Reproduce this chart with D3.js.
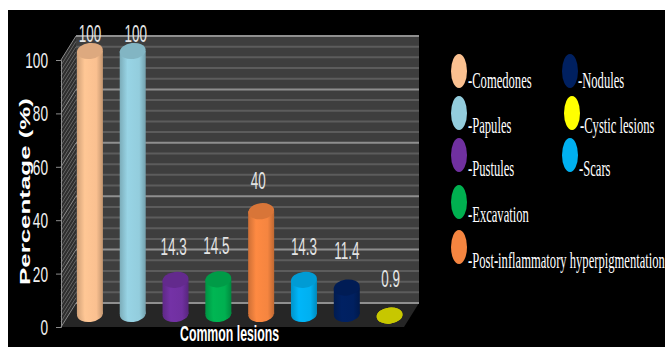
<!DOCTYPE html>
<html lang="en">
<head>
    <meta charset="UTF-8" />
    <title>Common lesions</title>
    <script src="https://d3js.org/d3.v7.min.js"></script>
    <style>
        html, body { margin: 0; background: #fff; }
        svg { display: block; }
        .sans { font-family: "Liberation Sans", Arial, sans-serif; }
        .serif { font-family: "Liberation Serif", "Times New Roman", serif; }
    </style>
</head>
<body>
    <div id="chart"></div>

    <script>
        const width = 665, height = 347;

        // Values
        const categories = ["Comedones", "Papules", "Pustules", "Excavation",
            "Post-inflammatory hyperpigmentation", "Scars", "Nodules", "Cystic lesions"];
        const values = [100, 100, 14.3, 14.5, 40, 14.3, 11.4, 0.9];
        const barColors = ["#fac090", "#93cddd", "#7030a0", "#00b050", "#f58540", "#00b0f0", "#002060", "#e2e200"];
        const legendColors = ["#fac090", "#93cddd", "#7030a0", "#00b050", "#f58540", "#00b0f0", "#002060", "#ffff00"];
        const yTicks = [0, 20, 40, 60, 80, 100];
        const minorTicks = d3.range(0, 101, 4);

        // Layout of the value labels (lift above the bar top, sideways nudge)
        const labelLift = [9, 9, 25, 25, 22, 25, 29, 29];
        const labelNudge = [0, 3, -2, -2, -3, 0, 0, 1];

        // Legend layout, same order as categories: [swatch x, swatch y, text x, baseline]
        const legendSpots = [
            [459, 71, 468, 88], [459, 113, 468, 133], [459, 155, 468, 176],
            [459, 202, 468, 222], [459, 247, 468, 268], [570, 155, 579, 176],
            [570, 71, 578, 88], [572, 113, 580, 133]
        ];

        const svg = d3.select("#chart").append("svg")
            .attr("width", width)
            .attr("height", height);

        const defs = svg.append("defs");

        svg.append("rect")
            .attr("x", 8).attr("y", 10)
            .attr("width", width - 8).attr("height", height - 10)
            .attr("fill", "#000");

        // front of the box; the wall sits up and to the right of it
        const depthX = 15, depthY = -24;
        const y = d3.scaleLinear().domain([0, 100]).range([327, 60]);
        const xFrontLeft = 61, wallRight = 419;

        // bars stand on the floor, so they get their own scale
        const barY = d3.scaleLinear().domain([0, 100]).range([318, 51]);
        const baseY = 314;
        const x = d3.scaleBand().domain(categories).range([68.5, 411]);

        // back wall
        svg.append("rect")
            .attr("x", xFrontLeft + depthX).attr("y", y(100) + depthY)
            .attr("width", wallRight - xFrontLeft - depthX).attr("height", y(0) - y(100))
            .attr("fill", "#3e3e3e");

        // side wall
        svg.append("path")
            .attr("d", d3.line()([
                [xFrontLeft, y(100)], [xFrontLeft + depthX, y(100) + depthY],
                [xFrontLeft + depthX, y(0) + depthY], [xFrontLeft, y(0)]
            ]) + "Z")
            .attr("fill", "#2e2e2e");

        // floor
        svg.append("path")
            .attr("d", d3.line()([
                [xFrontLeft, y(0)], [xFrontLeft + depthX, y(0) + depthY],
                [wallRight, y(0) + depthY], [wallRight - depthX, y(0)]
            ]) + "Z")
            .attr("fill", "#262626");

        // minor grid
        svg.append("g").selectAll("line")
            .data(minorTicks.filter(d => !yTicks.includes(d)))
            .enter().append("line")
            .attr("x1", xFrontLeft + depthX).attr("x2", wallRight)
            .attr("y1", d => y(d) + depthY).attr("y2", d => y(d) + depthY)
            .attr("stroke", "#5c5c5c").attr("stroke-width", 2);

        // slanted lines over the side wall
        svg.append("g").selectAll("line")
            .data(d3.range(0, 101, 2))
            .enter().append("line")
            .attr("x1", xFrontLeft).attr("x2", xFrontLeft + depthX)
            .attr("y1", d => y(d)).attr("y2", d => y(d) + depthY)
            .attr("stroke", d => yTicks.includes(d) ? "#8c8c8c" : "#666")
            .attr("stroke-width", 1);

        // major grid
        svg.append("g").selectAll("line")
            .data(yTicks)
            .enter().append("line")
            .attr("x1", xFrontLeft + depthX).attr("x2", wallRight)
            .attr("y1", d => y(d) + depthY).attr("y2", d => y(d) + depthY)
            .attr("stroke", "#8f8f8f").attr("stroke-width", 2);

        // y axis
        const axis = svg.append("g")
            .attr("transform", `translate(${xFrontLeft},0)`)
            .call(d3.axisLeft(y).tickValues(yTicks).tickSize(5).tickFormat(""));
        axis.selectAll("line, path").attr("stroke", "#8c8c8c");

        // axis titles go under the tick labels
        svg.append("text")
            .attr("class", "sans")
            .attr("transform", "translate(30,285) rotate(-90)")
            .attr("font-size", 14)
            .attr("font-weight", "bold")
            .attr("fill", "#fff")
            .attr("textLength", 187)
            .attr("lengthAdjust", "spacingAndGlyphs")
            .text("Percentage (%)");

        svg.append("text")
            .attr("class", "sans")
            .attr("transform", "translate(180,341) scale(0.56,1)")
            .attr("font-size", 22)
            .attr("font-weight", "bold")
            .attr("fill", "#fff")
            .text("Common lesions");

        svg.append("g").selectAll("text")
            .data(yTicks)
            .enter().append("text")
            .attr("class", "sans")
            .attr("transform", d => `translate(48,${y(d) + 8}) scale(0.62,1)`)
            .attr("text-anchor", "end")
            .attr("font-size", 22)
            .attr("fill", "#f0f0f0")
            .text(d => d);

        // bars
        const tilt = -7, rx = 13, ry = 8;

        categories.forEach((c, i) => {
            const base = d3.color(barColors[i]);
            const grad = defs.append("linearGradient").attr("id", "bar" + i);
            grad.append("stop").attr("offset", "0%").attr("stop-color", base.darker(0.5));
            grad.append("stop").attr("offset", "30%").attr("stop-color", base.brighter(0.1));
            grad.append("stop").attr("offset", "75%").attr("stop-color", base);
            grad.append("stop").attr("offset", "100%").attr("stop-color", base.darker(0.7));
        });

        const bars = svg.append("g").selectAll("g")
            .data(categories)
            .enter().append("g")
            .attr("transform", d => `translate(${x(d) + x.bandwidth() / 2},0)`);

        const topOf = (d, i) => barY(values[i]);
        const bottomOf = (d, i) => Math.max(baseY, topOf(d, i));

        bars.append("ellipse")
            .attr("rx", rx).attr("ry", ry)
            .attr("transform", (d, i) => `translate(0,${bottomOf(d, i)}) rotate(${tilt})`)
            .attr("fill", (d, i) => `url(#bar${i})`);

        bars.append("rect")
            .attr("x", -rx).attr("width", 2 * rx)
            .attr("y", topOf)
            .attr("height", (d, i) => bottomOf(d, i) - topOf(d, i))
            .attr("fill", (d, i) => `url(#bar${i})`);

        bars.append("ellipse")
            .attr("rx", rx).attr("ry", ry)
            .attr("transform", (d, i) => `translate(0,${topOf(d, i)}) rotate(${tilt})`)
            .attr("fill", (d, i) => d3.color(barColors[i]).darker(0.35));

        // value labels
        bars.append("text")
            .attr("class", "sans")
            .attr("transform", (d, i) =>
                `translate(${labelNudge[i]},${topOf(d, i) - labelLift[i]}) scale(0.56,1)`)
            .attr("text-anchor", "middle")
            .attr("font-size", 24)
            .attr("fill", "#e4e4e4")
            .text((d, i) => values[i]);

        // legend
        const legend = svg.append("g").selectAll("g")
            .data(categories)
            .enter().append("g");

        legend.append("ellipse")
            .attr("cx", (d, i) => legendSpots[i][0])
            .attr("cy", (d, i) => legendSpots[i][1])
            .attr("rx", 8).attr("ry", 17)
            .attr("fill", (d, i) => legendColors[i]);

        legend.append("text")
            .attr("class", "serif")
            .attr("transform", (d, i) => `translate(${legendSpots[i][2]},${legendSpots[i][3]}) scale(0.525,1)`)
            .attr("font-size", 24)
            .attr("fill", "#fff")
            .text(d => "-" + d);
    </script>
</body>
</html>
